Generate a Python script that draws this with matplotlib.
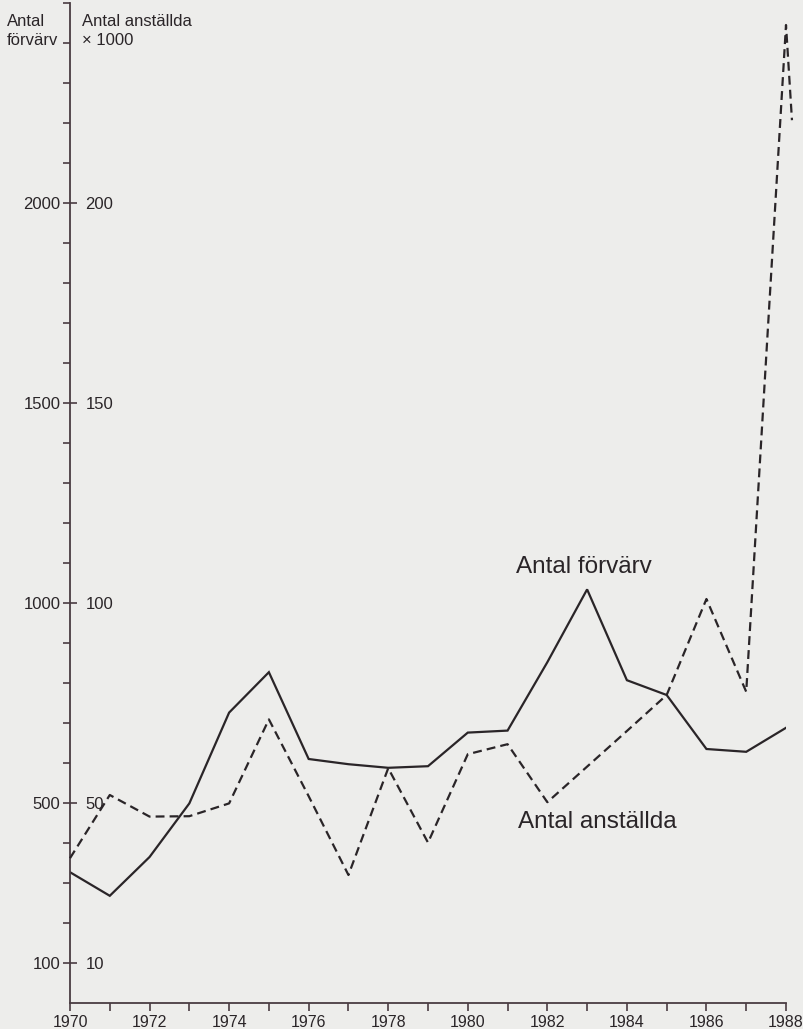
import numpy as np
import matplotlib.pyplot as plt
from matplotlib.ticker import FixedLocator

plt.rcParams['font.family'] = ['Liberation Sans', 'DejaVu Sans']

# data
years = [1970, 1971, 1972, 1973, 1974, 1975, 1976, 1977, 1978, 1979,
         1980, 1981, 1982, 1983, 1984, 1985, 1986, 1987, 1988]
forvarv = [327, 268, 365, 499, 726, 827, 610, 597, 588, 592,
           676, 681, 852, 1034, 807, 770, 635, 628, 688]
# employees, thousands (last point drawn slightly past 1988 in the original)
anst_years = years + [1988.15]
anstallda = [36.2, 52.0, 46.6, 46.7, 49.9, 70.9, 51.7, 32.0, 58.7, 40.1,
             62.2, 64.7, 50.2, 59.1, 68.0, 77.0, 101.0, 77.8, 244.5, 220.7]

left_major = [100, 500, 1000, 1500, 2000]
right_major = [10, 50, 100, 150, 200]

bg = '#ededeb'
ink = '#2a2528'
axis_col = '#4a3c42'

fig = plt.figure(figsize=(8.04, 10.29), dpi=100, facecolor=bg)
ax = fig.add_axes([70 / 804, 26 / 1029, 716 / 804, 1000 / 1029])
ax.set_facecolor(bg)

ax.plot(years, forvarv, color=ink, lw=1.6, solid_joinstyle='miter')

ax.set_xlim(1970, 1988)
ax.set_ylim(0, 2500)

for s in ['top', 'right']:
    ax.spines[s].set_visible(False)
for s in ['left', 'bottom']:
    ax.spines[s].set_color(axis_col)
    ax.spines[s].set_linewidth(1.3)

# x ticks: every year, labels every second year
ax.set_xticks(np.arange(1970, 1989, 2))
ax.xaxis.set_minor_locator(FixedLocator(np.arange(1971, 1988, 2)))
ax.tick_params(axis='x', which='both', direction='out', length=6, width=1.2,
               color=axis_col, labelsize=11.5, pad=2.5, labelcolor=ink)

# y ticks: every 100, labelled ones cross the axis
ax.set_yticks(left_major)
ax.yaxis.set_minor_locator(FixedLocator([v for v in range(200, 2501, 100)
                                         if v not in left_major]))
ax.tick_params(axis='y', which='major', direction='inout', length=10, width=1.2,
               color=axis_col, labelsize=12, pad=2, labelcolor=ink)
ax.tick_params(axis='y', which='minor', direction='out', length=5, width=1.2,
               color=axis_col)

# second scale for employees, labels to the right of the same axis line
ax2 = ax.twinx()
ax2.set_ylim(0, 250)
for s in ax2.spines.values():
    s.set_visible(False)
ax2.spines['right'].set_position(('axes', 0))
ax2.set_yticks(right_major)
ax2.tick_params(axis='y', length=0, pad=11, labelsize=12, labelcolor=ink)
ax2.plot(anst_years, anstallda, color=ink, lw=1.6, linestyle=(0, (4.0, 2.3)),
         clip_on=False)

ax.text(1981.22, 1090, 'Antal förvärv', fontsize=17.5, color=ink,
        ha='left', va='center')
ax.text(1981.25, 452, 'Antal anställda', fontsize=17.5, color=ink,
        ha='left', va='center')

fig.text(7 / 804, 1 - 31 / 1029, 'Antal\nförvärv', fontsize=12, color=ink,
         ha='left', va='center', linespacing=1.35)
fig.text(82 / 804, 1 - 31 / 1029, 'Antal anställda\n× 1000', fontsize=12,
         color=ink, ha='left', va='center', linespacing=1.35)

fig.savefig('out.png', dpi=100, facecolor=bg)
